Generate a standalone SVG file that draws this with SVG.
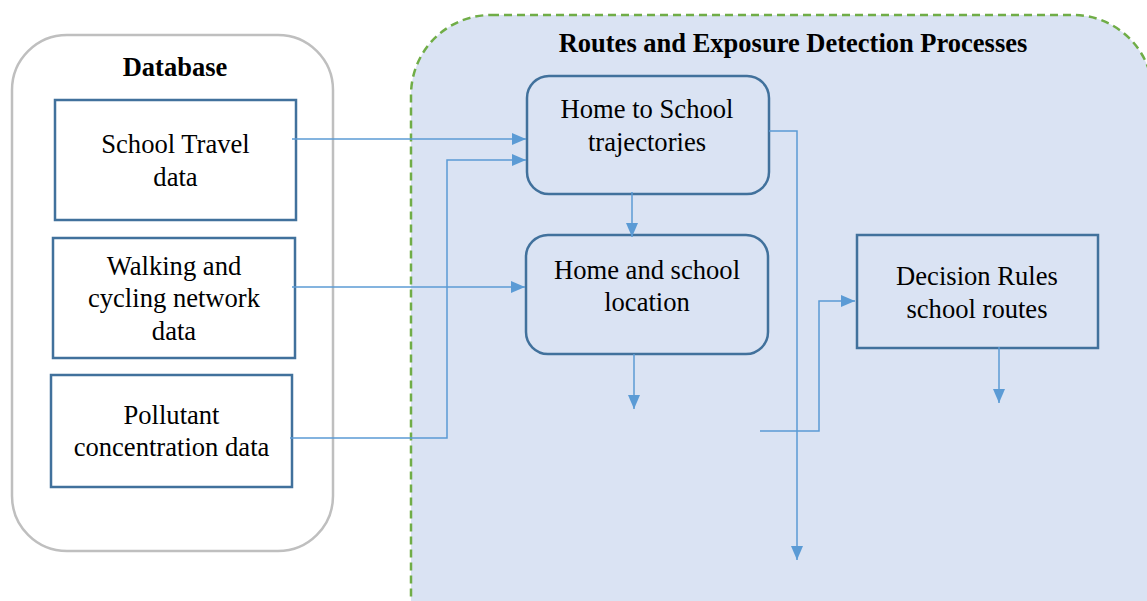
<svg xmlns="http://www.w3.org/2000/svg" width="1147" height="601" viewBox="0 0 1147 601">
<style>
.t{font-family:'Liberation Serif',Tinos,'Times New Roman','Noto Serif','DejaVu Serif',serif;font-size:26.6px;fill:#000;text-anchor:middle}
.b{font-weight:bold;font-size:26.5px}
.box{fill:#fff;stroke:#41719c;stroke-width:2.5}
.rbox{fill:#dae3f3;stroke:#41719c;stroke-width:2.5}
.c{fill:none;stroke:#5b9bd5;stroke-width:1.5}
</style>
<defs>
<marker id="ah" viewBox="0 0 14 12" refX="14" refY="6" markerWidth="14" markerHeight="12" markerUnits="userSpaceOnUse" orient="auto">
<path d="M0,0 L14,6 L0,12 z" fill="#5b9bd5"/>
</marker>
</defs>
<rect width="1147" height="601" fill="#fff"/>
<g id="database">
<rect x="12" y="35" width="321" height="516" rx="55" fill="#fff" stroke="#bfbfbf" stroke-width="2.5"/>
<text class="t b" x="175" y="76">Database</text>
</g>
<g id="routes-container">
<rect x="411" y="15" width="742" height="700" rx="80" fill="#dae3f3" stroke="#70ad47" stroke-width="2.5" stroke-dasharray="8,5"/>
<text class="t b" x="793" y="52">Routes and Exposure Detection Processes</text>
</g>
<g id="school-travel">
<rect class="box" x="55" y="100" width="241" height="120"/>
<text class="t" x="175.5" y="153">School Travel</text>
<text class="t" x="175.5" y="186">data</text>
</g>
<g id="walking-cycling">
<rect class="box" x="53" y="238" width="242" height="120"/>
<text class="t" x="174" y="275">Walking and</text>
<text class="t" x="174" y="307">cycling network</text>
<text class="t" x="174" y="340">data</text>
</g>
<g id="pollutant">
<rect class="box" x="51" y="375" width="241" height="112"/>
<text class="t" x="171.5" y="424">Pollutant</text>
<text class="t" x="171.5" y="456">concentration data</text>
</g>
<g id="home-to-school">
<rect class="rbox" x="527" y="76" width="242" height="118" rx="22"/>
<text class="t" x="647" y="118">Home to School</text>
<text class="t" x="647" y="151">trajectories</text>
</g>
<g id="home-school-location">
<rect class="rbox" x="526" y="235" width="242" height="119" rx="22"/>
<text class="t" x="647" y="279">Home and school</text>
<text class="t" x="647" y="311">location</text>
</g>
<g id="decision-rules">
<rect class="rbox" x="857" y="235" width="241" height="113"/>
<text class="t" x="977" y="285">Decision Rules</text>
<text class="t" x="977" y="318">school routes</text>
</g>
<g id="connectors">
<path class="c" d="M292,139 H526" marker-end="url(#ah)"/>
<path class="c" d="M292,287 H525" marker-end="url(#ah)"/>
<path class="c" d="M290,438 H447 V160 H526" marker-end="url(#ah)"/>
<path class="c" d="M632,192 V237" marker-end="url(#ah)"/>
<path class="c" d="M634,354 V409" marker-end="url(#ah)"/>
<path class="c" d="M769,131 H797 V560" marker-end="url(#ah)"/>
<path class="c" d="M760,431 H819 V301 H855" marker-end="url(#ah)"/>
<path class="c" d="M999,347 V403" marker-end="url(#ah)"/>
</g>
</svg>
